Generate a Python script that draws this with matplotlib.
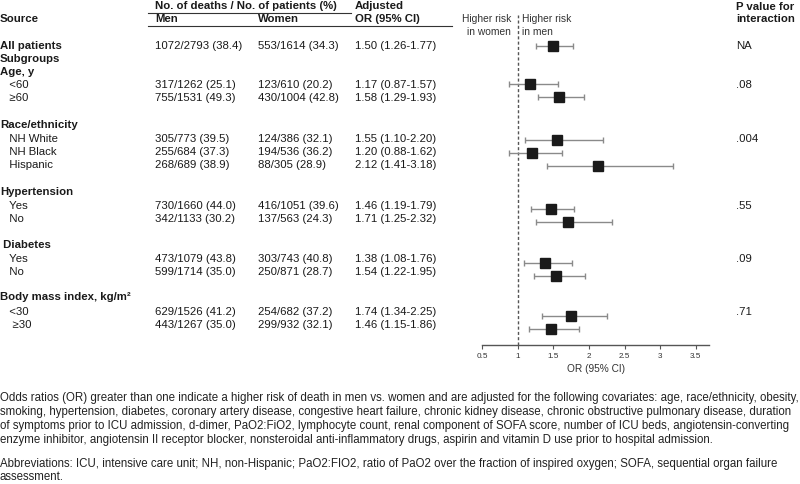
import matplotlib
matplotlib.use("Agg")
import matplotlib.pyplot as plt
from matplotlib import font_manager as fm
from matplotlib.lines import Line2D

# ---------------- data ----------------
row_labels = ["All patients", "Subgroups", "Age, y", "   <60", "   ≥60",
              "Race/ethnicity", "   NH White", "   NH Black", "   Hispanic",
              "Hypertension", "   Yes", "   No",
              " Diabetes", "   Yes", "   No",
              "Body mass index, kg/m²", "   <30", "    ≥30"]
row_bold = [True, True, True, False, False,
            True, False, False, False,
            True, False, False,
            True, False, False,
            True, False, False]
men_text = ["1072/2793 (38.4)", "", "", "317/1262 (25.1)", "755/1531 (49.3)",
            "", "305/773 (39.5)", "255/684 (37.3)", "268/689 (38.9)",
            "", "730/1660 (44.0)", "342/1133 (30.2)",
            "", "473/1079 (43.8)", "599/1714 (35.0)",
            "", "629/1526 (41.2)", "443/1267 (35.0)"]
women_text = ["553/1614 (34.3)", "", "", "123/610 (20.2)", "430/1004 (42.8)",
              "", "124/386 (32.1)", "194/536 (36.2)", "88/305 (28.9)",
              "", "416/1051 (39.6)", "137/563 (24.3)",
              "", "303/743 (40.8)", "250/871 (28.7)",
              "", "254/682 (37.2)", "299/932 (32.1)"]
p_text = ["NA", "", "", ".08", "", "", ".004", "", "", "", ".55", "", "", ".09", "", "", ".71", ""]

or_est = [1.50, 1.17, 1.58, 1.55, 1.20, 2.12, 1.46, 1.71, 1.38, 1.54, 1.74, 1.46]
or_lo = [1.26, 0.87, 1.29, 1.10, 0.88, 1.41, 1.19, 1.25, 1.08, 1.22, 1.34, 1.15]
or_hi = [1.77, 1.57, 1.93, 2.20, 1.62, 3.18, 1.79, 2.32, 1.76, 1.95, 2.25, 1.86]
x_ticks = [0.5, 1, 1.5, 2, 2.5, 3, 3.5]
x_ticklabels = ["0.5", "1", "1.5", "2", "2.5", "3", "3.5"]

footnote_lines = [
    "Odds ratios (OR) greater than one indicate a higher risk of death in men vs. women and are adjusted for the following covariates: age, race/ethnicity, obesity,",
    "smoking, hypertension, diabetes, coronary artery disease, congestive heart failure, chronic kidney disease, chronic obstructive pulmonary disease, duration",
    "of symptoms prior to ICU admission, d-dimer, PaO2:FiO2, lymphocyte count, renal component of SOFA score, number of ICU beds, angiotensin-converting",
    "enzyme inhibitor, angiotensin II receptor blocker, nonsteroidal anti-inflammatory drugs, aspirin and vitamin D use prior to hospital admission.",
]
abbrev_lines = [
    "Abbreviations: ICU, intensive care unit; NH, non-Hispanic; PaO2:FIO2, ratio of PaO2 over the fraction of inspired oxygen; SOFA, sequential organ failure",
    "assessment.",
]

# ---------------- layout (pixel positions) ----------------
W, H = 800, 484
row_y = [46, 59, 72, 85, 98, 125, 139, 152, 165, 192, 206, 219, 245, 259, 272, 297, 312, 325]
marker_y = [46, 84, 97, 140, 153, 166, 209, 222, 263, 276, 316, 329]
foot_y = [398, 412, 426, 440]
abbrev_y = [464, 477]


def has_font(name):
    try:
        fm.findfont(fm.FontProperties(family=name), fallback_to_default=False)
        return True
    except Exception:
        return False


REG = "Liberation Sans" if has_font("Liberation Sans") else "DejaVu Sans"
NARROW = "Liberation Sans Narrow" if has_font("Liberation Sans Narrow") else REG

fig = plt.figure(figsize=(W / 100, H / 100), dpi=100)
fig.patch.set_facecolor("white")


def fx(x):
    return x / W


def fy(y):
    return 1 - y / H


def txt(x, y, s, size=8.2, bold=False, ha="left", va="center", family=REG, color="#1a1a1a"):
    fig.text(fx(x), fy(y), s, fontsize=size, fontweight="bold" if bold else "normal",
             ha=ha, va=va, family=[family, "DejaVu Sans"], color=color)


# headers
txt(155, 6, "No. of deaths / No. of patients (%)", bold=True)
txt(355, 6, "Adjusted", bold=True)
txt(0, 19, "Source", bold=True)
txt(155, 19, "Men", bold=True)
txt(258, 19, "Women", bold=True)
txt(355, 19, "OR (95% CI)", bold=True)
txt(736, 7, "P value for", bold=True)
txt(736, 19, "interaction", bold=True)
fig.add_artist(Line2D([fx(148), fx(351)], [fy(12.5), fy(12.5)], color="#333", lw=0.8))
fig.add_artist(Line2D([fx(148), fx(452)], [fy(25.5), fy(25.5)], color="#333", lw=0.8))

# table rows
k = 0
for i, lab in enumerate(row_labels):
    y = row_y[i]
    txt(0, y, lab, bold=row_bold[i])
    if men_text[i]:
        txt(155, y, men_text[i])
        txt(258, y, women_text[i])
        txt(355, y, f"{or_est[k]:.2f} ({or_lo[k]:.2f}-{or_hi[k]:.2f})")
        k += 1
    if p_text[i]:
        txt(736, y, p_text[i])

# forest axes
ax_left, ax_right, ax_bottom, ax_top = 482.3, 709.0, 344.7, 12.0
ppu = (695.7 - 482.3) / 3.0
ax = fig.add_axes([fx(ax_left), fy(ax_bottom), (ax_right - ax_left) / W, (ax_bottom - ax_top) / H])
ax.set_xlim(0.5, 0.5 + (ax_right - ax_left) / ppu)
ax.set_ylim(ax_bottom, ax_top)
ax.patch.set_alpha(0)
for s in ["top", "right", "left"]:
    ax.spines[s].set_visible(False)
ax.spines["bottom"].set_color("#555")
ax.spines["bottom"].set_linewidth(1.0)
ax.set_yticks([])
ax.set_xticks(x_ticks)
ax.set_xticklabels(x_ticklabels, family=[NARROW, "DejaVu Sans"],
                   fontsize=6.2 if NARROW != REG else 5.9, color="#333")
ax.tick_params(axis="x", direction="out", length=3, width=0.8, color="#555", pad=3)

ax.plot([1, 1], [ax_bottom, 15], color="#555", lw=1.0, ls=(0, (2.2, 1.6)), clip_on=False)

xerr = [[e - l for e, l in zip(or_est, or_lo)], [h - e for e, h in zip(or_est, or_hi)]]
ax.errorbar(or_est, marker_y, xerr=xerr, fmt="none", ecolor="#8a8a8a", elinewidth=1.0,
            capsize=2.4, capthick=1.0, clip_on=False)
ax.plot(or_est, marker_y, ls="none", marker="s", markersize=6.8, color="#1a1a1a", clip_on=False)

ax.set_xlabel("OR (95% CI)", fontsize=7.3, color="#333", family=[REG], labelpad=3)

# risk labels
txt(511, 19, "Higher risk", size=7.4, ha="right", color="#333")
txt(511, 32, "in women", size=7.4, ha="right", color="#333")
txt(521.5, 19, "Higher risk", size=7.4, ha="left", color="#333")
txt(521.5, 32, "in men", size=7.4, ha="left", color="#333")

# footnotes
foot_size = 8.8 if NARROW != REG else 8.3
for s, y in zip(footnote_lines, foot_y):
    txt(0, y, s, size=foot_size, family=NARROW, color="#222")
for s, y in zip(abbrev_lines, abbrev_y):
    txt(0, y, s, size=foot_size, family=NARROW, color="#222")

fig.savefig("out.png", dpi=100, facecolor="white")
